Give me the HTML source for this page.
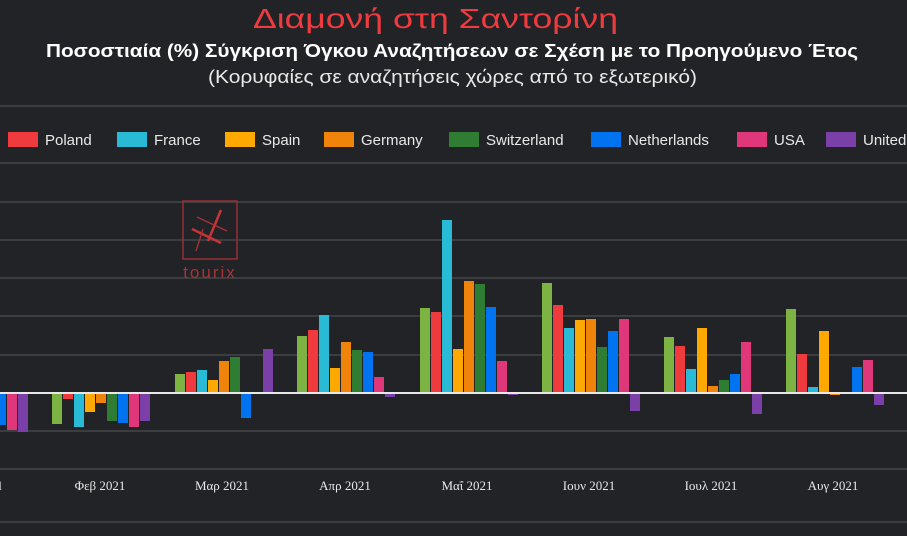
<!DOCTYPE html>
<html><head><meta charset="utf-8"><style>
html,body{margin:0;padding:0;background:#222326;width:907px;height:536px;overflow:hidden}
svg{display:block}
text{font-family:"Liberation Sans","DejaVu Sans",sans-serif}
text.ax{font-family:"Liberation Serif","DejaVu Serif",serif}
</style></head><body>
<svg id="s" width="907" height="536" xmlns="http://www.w3.org/2000/svg">
<rect width="907" height="536" fill="#222326"/>
<text x="253" y="28" fill="#ef3b3e" font-size="28" textLength="365" lengthAdjust="spacingAndGlyphs">Διαμονή στη Σαντορίνη</text>
<text x="46" y="57" fill="#ffffff" font-size="18" font-weight="bold" textLength="812" lengthAdjust="spacingAndGlyphs">Ποσοστιαία (%) Σύγκριση Όγκου Αναζητήσεων σε Σχέση με το Προηγούμενο Έτος</text>
<text x="208" y="83" fill="#e8e8e8" font-size="18" textLength="489" lengthAdjust="spacingAndGlyphs">(Κορυφαίες σε αναζητήσεις χώρες από το εξωτερικό)</text>
<g stroke="#3c3d40" stroke-width="2">
<line x1="0" x2="907" y1="106" y2="106"/><line x1="0" x2="907" y1="163" y2="163"/>
<line x1="0" x2="907" y1="202" y2="202"/><line x1="0" x2="907" y1="240" y2="240"/>
<line x1="0" x2="907" y1="278" y2="278"/><line x1="0" x2="907" y1="316" y2="316"/>
<line x1="0" x2="907" y1="355" y2="355"/><line x1="0" x2="907" y1="431" y2="431"/>
<line x1="0" x2="907" y1="469" y2="469"/><line x1="0" x2="907" y1="522" y2="522"/>
</g>
<g transform="translate(183,201)" stroke="#a83236" fill="none" stroke-width="1.3">
<rect x="0" y="0" width="54" height="58"/>
<line x1="9" y1="28" x2="38" y2="42" stroke-width="2.5" stroke="#c43538"/>
<line x1="38" y1="9" x2="25" y2="40" stroke-width="2.5" stroke="#c43538"/>
<line x1="14" y1="16" x2="44" y2="30"/><line x1="20" y1="28" x2="13" y2="50"/>
<text x="27" y="77" text-anchor="middle" fill="#a83236" stroke="none" font-size="17" letter-spacing="2">tourix</text>
</g>
<g id="bars"></g>
<line x1="0" x2="907" y1="393" y2="393" stroke="#e8e8e8" stroke-width="2"/>
<g id="leg" font-size="15" fill="#e8e8e8"></g>
<g font-size="13" fill="#e8e8e8" text-anchor="middle">
<text class="ax" x="0" y="490">l</text>
<text class="ax" x="100" y="490">Φεβ 2021</text><text class="ax" x="222" y="490">Μαρ 2021</text>
<text class="ax" x="345" y="490">Απρ 2021</text><text class="ax" x="467" y="490">Μαΐ 2021</text>
<text class="ax" x="589" y="490">Ιουν 2021</text><text class="ax" x="711" y="490">Ιουλ 2021</text>
<text class="ax" x="833" y="490">Αυγ 2021</text>
</g>
</svg>
<script>
var C=["#7cb342","#ef3b3e","#29bbd6","#ffa800","#f0830a","#2e7d32","#0074f0","#e0367a","#7b3fa8"];
var G=[[-70,[null,null,null,null,null,null,425,430,432]],
[52,[424,399,427,412,403,421,423,427,421]],
[175,[374,372,370,380,361,357,418,392,349]],
[297,[336,330,315,368,342,350,352,377,397]],
[420,[308,312,220,349,281,284,307,361,395]],
[542,[283,305,328,320,319,347,331,319,411]],
[664,[337,346,369,328,386,380,374,342,414]],
[786,[309,354,387,331,395,null,367,360,405]]];
var b=document.getElementById("bars"),h="";
G.forEach(function(g){g[1].forEach(function(v,i){if(v==null)return;var x=g[0]+i*11;var y=Math.min(v,393),hh=Math.abs(v-393);
h+='<rect x="'+x+'" y="'+y+'" width="10" height="'+hh+'" fill="'+C[i]+'"/>';});});
b.innerHTML=h;
var L=[["Poland",8,1],["France",117,2],["Spain",225,3],["Germany",324,4],["Switzerland",449,5],["Netherlands",591,6],["USA",737,7],["United",826,8]],l="";
L.forEach(function(e){l+='<rect x="'+e[1]+'" y="132" width="30" height="15" fill="'+C[e[2]]+'"/><text x="'+(e[1]+37)+'" y="145">'+e[0]+'</text>';});
document.getElementById("leg").innerHTML=l;
</script>
</body></html>
